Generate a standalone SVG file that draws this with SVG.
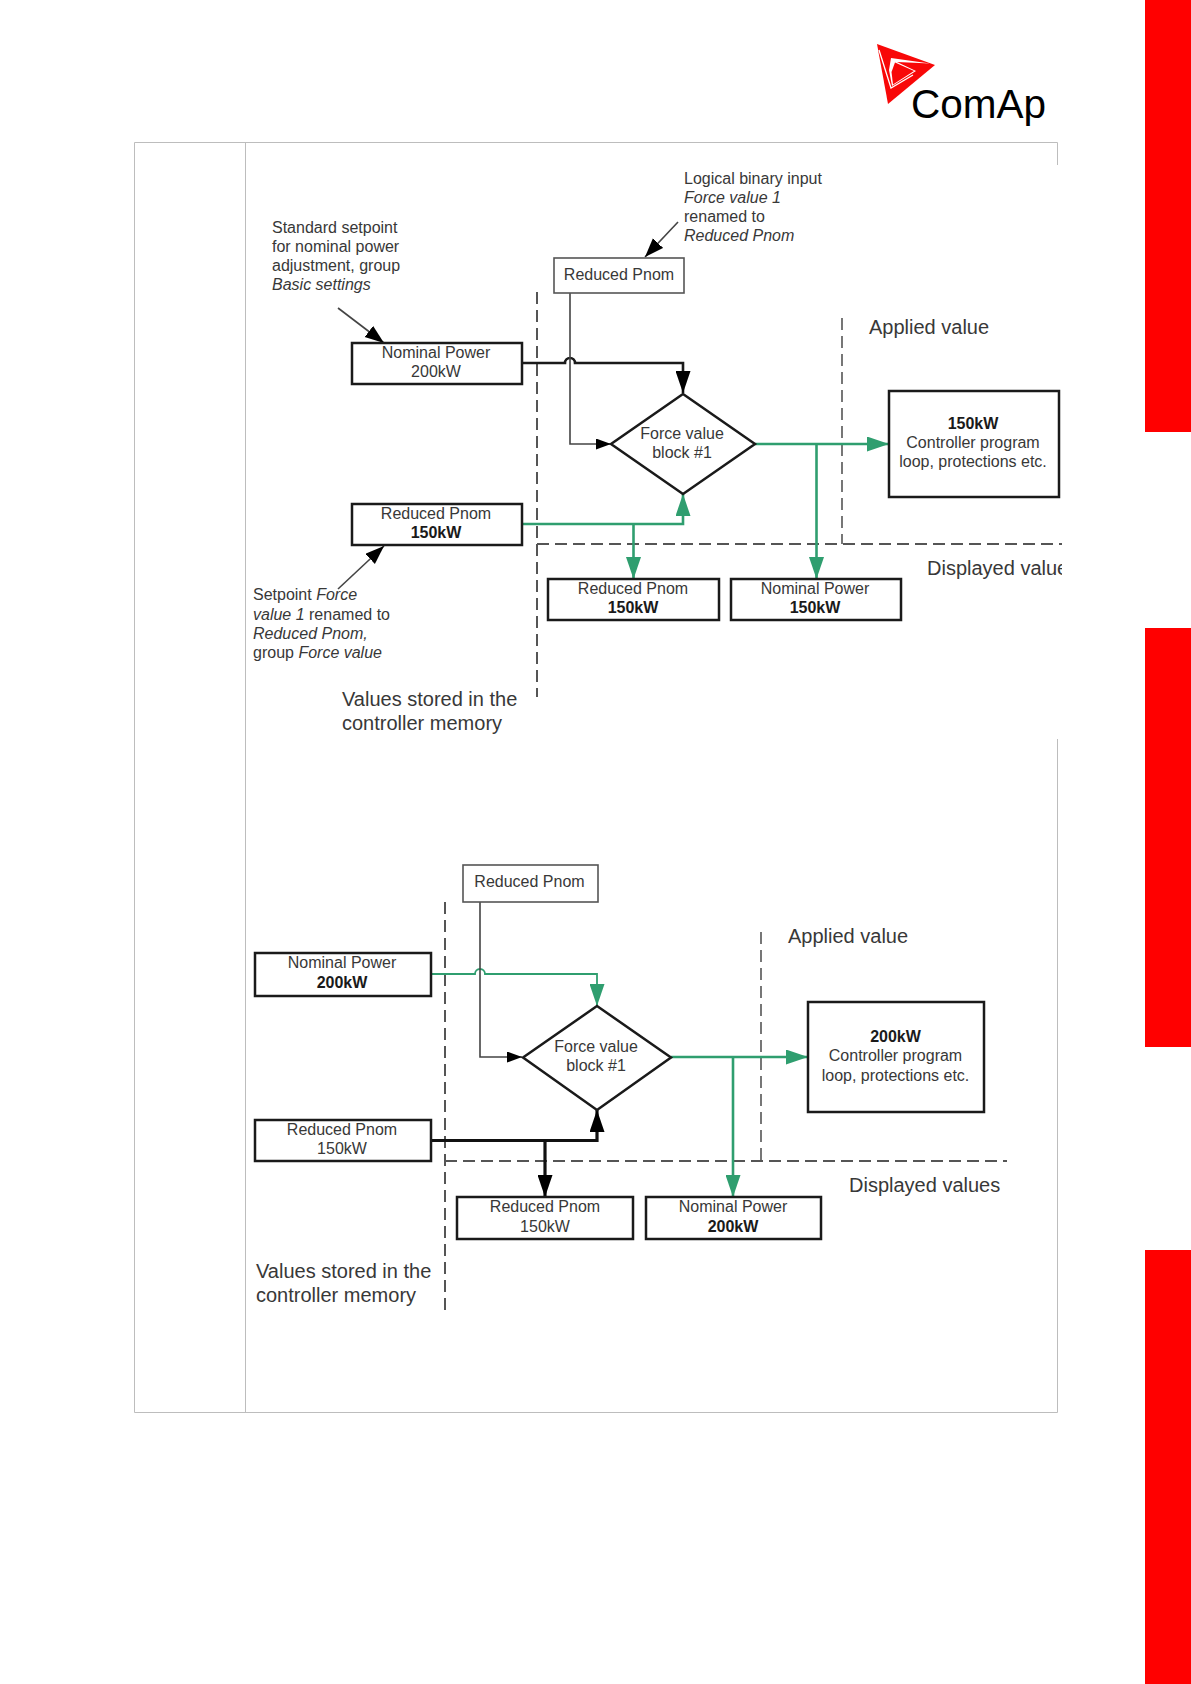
<svg xmlns="http://www.w3.org/2000/svg" width="1191" height="1684" viewBox="0 0 1191 1684">
<style>
text{font-family:"Liberation Sans",Arial,sans-serif;fill:#383838;font-size:16px}
.c{text-anchor:middle}
.b{font-weight:bold;fill:#1a1a1a}
.i{font-style:italic}
.big{font-size:20px}
.box{fill:#fff;stroke:#1a1a1a;stroke-width:2.5}
.thin{fill:#fff;stroke:#555;stroke-width:1.6}
.dash{fill:none;stroke:#555;stroke-width:2;stroke-dasharray:12 6}
.dash2{fill:none;stroke:#555;stroke-width:1.6;stroke-dasharray:12 6}
.k{fill:none;stroke:#1a1a1a;stroke-width:2.6}
.kk{fill:none;stroke:#111;stroke-width:3.2}
.k1{fill:none;stroke:#444;stroke-width:1.6}
.g{fill:none;stroke:#2f9e6f;stroke-width:2.6}
.g1{fill:none;stroke:#2f9e6f;stroke-width:1.8}
.t{stroke:#bdbdbd;stroke-width:1;fill:none}
</style>
<defs>
<marker id="ak" markerUnits="userSpaceOnUse" markerWidth="24" markerHeight="15" refX="22" refY="7.500" orient="auto"><polygon points="0,0 22,7.500 0,15" fill="#000"/></marker>
<marker id="ag" markerUnits="userSpaceOnUse" markerWidth="24" markerHeight="15" refX="22" refY="7.500" orient="auto"><polygon points="0,0 22,7.500 0,15" fill="#2f9e6f"/></marker>
<marker id="as" markerUnits="userSpaceOnUse" markerWidth="16" markerHeight="12" refX="15" refY="5.500" orient="auto"><polygon points="0,0 15,5.500 0,11" fill="#000"/></marker>
<marker id="ap" markerUnits="userSpaceOnUse" markerWidth="20" markerHeight="15" refX="19" refY="7" orient="auto"><polygon points="0,0 19,7 0,14" fill="#000"/></marker>
<clipPath id="clip"><rect x="245" y="150" width="817" height="590"/></clipPath>
</defs>

<g id="side-bars" fill="#ff0000">
<rect x="1145" y="0" width="46" height="432"/>
<rect x="1145" y="628" width="46" height="419"/>
<rect x="1145" y="1250" width="46" height="434"/>
</g>

<g id="logo">
<polygon points="877,44 935,65 888,104" fill="#f80808"/>
<polyline points="879,50 891,88 913,75" fill="none" stroke="#fff" stroke-width="1.3"/>
<polygon points="891,58 930,63.500 897,62 916,71 892,86 889,70" fill="#fff"/>
<polygon points="895,62.500 914,71 893,84.500 891.500,72" fill="#f80808"/>
<text x="911" y="118" style="font-size:40.500px;fill:#000">ComAp</text>
</g>

<g id="table">
<path class="t" d="M1057.500 142.500H134.500V1412.500H1057.500M245.500 142.500V1412.500M1057.500 142.500V165M1057.500 739V1412.500"/>
</g>

<g clip-path="url(#clip)" id="upper-diagram">
<g id="u-guides">
<path class="dash" d="M537 292V697"/>
<path class="dash2" d="M842 318V544"/>
<path class="dash" d="M537 544H1062"/>
</g>
<g id="u-connectors">
<path class="k1" d="M338 308L384 343" marker-end="url(#ap)"/>
<path class="k1" d="M678 222L645 257" marker-end="url(#ap)"/>
<path class="k1" d="M338 589L384 546" marker-end="url(#ap)"/>
<path class="k" d="M522 363H565A5 5 0 0 1 575 363H683V393" marker-end="url(#ak)"/>
<path class="k1" d="M570 292V444H611" marker-end="url(#as)"/>
<path class="g" d="M522 524H683V494" marker-end="url(#ag)"/>
<path class="g" d="M633.500 524V579" marker-end="url(#ag)"/>
<path class="g" d="M755 444H889" marker-end="url(#ag)"/>
<path class="g" d="M816.500 444V579" marker-end="url(#ag)"/>
</g>
<g id="u-node-input"><rect class="thin" x="554" y="258" width="130" height="35"/><text class="c" x="619" y="280">Reduced Pnom</text></g>
<g id="u-node-nominal"><rect class="box" x="352" y="343" width="170" height="41"/><text class="c" x="436" y="358">Nominal Power</text><text class="c" x="436" y="377">200kW</text></g>
<g id="u-node-reduced"><rect class="box" x="352" y="504" width="170" height="41"/><text class="c" x="436" y="519">Reduced Pnom</text><text class="c b" x="436" y="538">150kW</text></g>
<g id="u-node-block"><polygon class="box" points="683,394 755,444 683,494 611,444"/><text class="c" x="682" y="439">Force value</text><text class="c" x="682" y="458">block #1</text></g>
<g id="u-node-controller"><rect class="box" x="889" y="391" width="170" height="106"/><text class="c b" x="973" y="429">150kW</text><text class="c" x="973" y="448">Controller program</text><text class="c" x="973" y="467">loop, protections etc.</text></g>
<g id="u-node-disp-reduced"><rect class="box" x="548" y="579" width="171" height="41"/><text class="c" x="633" y="594">Reduced Pnom</text><text class="c b" x="633" y="613">150kW</text></g>
<g id="u-node-disp-nominal"><rect class="box" x="731" y="579" width="170" height="41"/><text class="c" x="815" y="594">Nominal Power</text><text class="c b" x="815" y="613">150kW</text></g>
<g id="u-notes">
<text x="684" y="184">Logical binary input</text>
<text class="i" x="684" y="203">Force value 1</text>
<text x="684" y="222">renamed to</text>
<text class="i" x="684" y="241">Reduced Pnom</text>
<text x="272" y="233">Standard setpoint</text>
<text x="272" y="252">for nominal power</text>
<text x="272" y="271">adjustment, group</text>
<text class="i" x="272" y="290">Basic settings</text>
<text x="253" y="600">Setpoint <tspan class="i">Force</tspan></text>
<text x="253" y="620"><tspan class="i">value 1</tspan> renamed to</text>
<text class="i" x="253" y="639">Reduced Pnom,</text>
<text x="253" y="658">group <tspan class="i">Force value</tspan></text>
<text class="big" x="342" y="706">Values stored in the</text>
<text class="big" x="342" y="730">controller memory</text>
<text class="big" x="869" y="334">Applied value</text>
<text class="big" x="927" y="575">Displayed values</text>
</g>
</g>

<g id="lower-diagram">
<g id="l-guides">
<path class="dash" d="M445 902V1311"/>
<path class="dash2" d="M761 932V1161"/>
<path class="dash" d="M445 1161H1007"/>
</g>
<g id="l-connectors">
<path class="g1" d="M431 974H475A5 5 0 0 1 485 974H597V1006" marker-end="url(#ag)"/>
<path class="k1" d="M480 902V1057H522" marker-end="url(#as)"/>
<path class="kk" d="M431 1140.500H597V1110" marker-end="url(#ak)"/>
<path class="kk" d="M545 1140.500V1197" marker-end="url(#ak)"/>
<path class="g" d="M671 1057H808" marker-end="url(#ag)"/>
<path class="g" d="M733 1057V1197" marker-end="url(#ag)"/>
</g>
<g id="l-node-input"><rect class="thin" x="463" y="865" width="135" height="37"/><text class="c" x="529.500" y="887">Reduced Pnom</text></g>
<g id="l-node-nominal"><rect class="box" x="255" y="953" width="176" height="43"/><text class="c" x="342" y="968">Nominal Power</text><text class="c b" x="342" y="988">200kW</text></g>
<g id="l-node-reduced"><rect class="box" x="255" y="1120" width="176" height="41"/><text class="c" x="342" y="1135">Reduced Pnom</text><text class="c" x="342" y="1154">150kW</text></g>
<g id="l-node-block"><polygon class="box" points="597,1006 671,1057.500 597,1110 523,1057.500"/><text class="c" x="596" y="1052">Force value</text><text class="c" x="596" y="1071">block #1</text></g>
<g id="l-node-controller"><rect class="box" x="808" y="1002" width="176" height="110"/><text class="c b" x="895.500" y="1042">200kW</text><text class="c" x="895.500" y="1061">Controller program</text><text class="c" x="895.500" y="1081">loop, protections etc.</text></g>
<g id="l-node-disp-reduced"><rect class="box" x="457" y="1197" width="176" height="42"/><text class="c" x="545" y="1212">Reduced Pnom</text><text class="c" x="545" y="1232">150kW</text></g>
<g id="l-node-disp-nominal"><rect class="box" x="646" y="1197" width="175" height="42"/><text class="c" x="733" y="1212">Nominal Power</text><text class="c b" x="733" y="1232">200kW</text></g>
<g id="l-notes">
<text class="big" x="788" y="943">Applied value</text>
<text class="big" x="849" y="1192">Displayed values</text>
<text class="big" x="256" y="1278">Values stored in the</text>
<text class="big" x="256" y="1302">controller memory</text>
</g>
</g>
</svg>
